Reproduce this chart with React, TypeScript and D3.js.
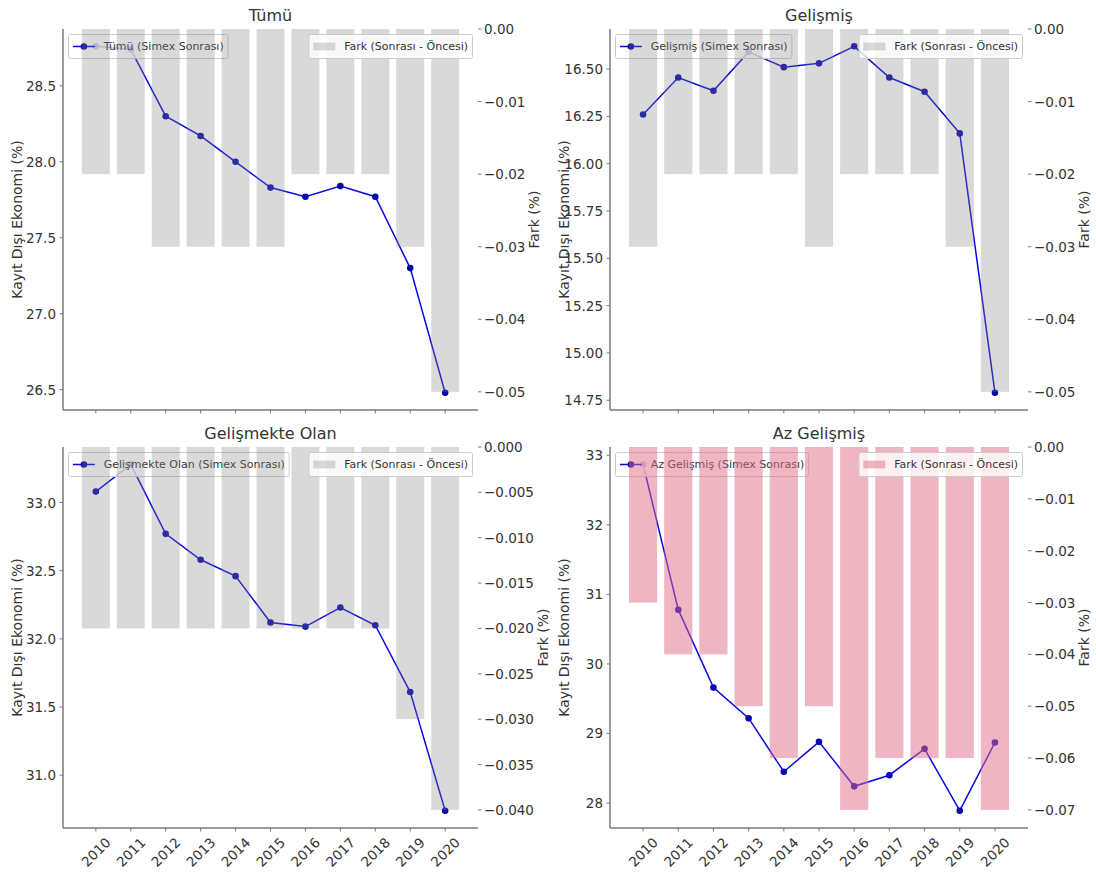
import React from "react";
import * as d3 from "d3";

const years = [2010, 2011, 2012, 2013, 2014, 2015, 2016, 2017, 2018, 2019, 2020];

const tumuValues = [28.76, 28.74, 28.3, 28.17, 28.0, 27.83, 27.77, 27.84, 27.77, 27.3, 26.48];
const tumuDiff = [-0.02, -0.02, -0.03, -0.03, -0.03, -0.03, -0.02, -0.02, -0.02, -0.03, -0.05];

const gelismisValues = [16.26, 16.455, 16.385, 16.59, 16.51, 16.53, 16.62, 16.455, 16.38, 16.16, 14.79];
const gelismisDiff = [-0.03, -0.02, -0.02, -0.02, -0.02, -0.03, -0.02, -0.02, -0.02, -0.03, -0.05];

const gelismekteValues = [33.08, 33.28, 32.77, 32.58, 32.46, 32.12, 32.09, 32.23, 32.1, 31.61, 30.74];
const gelismekteDiff = [-0.02, -0.02, -0.02, -0.02, -0.02, -0.02, -0.02, -0.02, -0.02, -0.03, -0.04];

const azValues = [32.87, 30.78, 29.66, 29.22, 28.45, 28.88, 28.24, 28.4, 28.78, 27.89, 28.87];
const azDiff = [-0.03, -0.04, -0.04, -0.05, -0.06, -0.05, -0.07, -0.06, -0.06, -0.06, -0.07];

const tumuLeftTicks = [26.5, 27.0, 27.5, 28.0, 28.5];
const gelismisLeftTicks = [14.75, 15.0, 15.25, 15.5, 15.75, 16.0, 16.25, 16.5];
const gelismekteLeftTicks = [31.0, 31.5, 32.0, 32.5, 33.0];
const azLeftTicks = [28, 29, 30, 31, 32, 33];

const tumuRightTicks = [0, -0.01, -0.02, -0.03, -0.04, -0.05];
const gelismisRightTicks = [0, -0.01, -0.02, -0.03, -0.04, -0.05];
const gelismekteRightTicks = [0, -0.005, -0.01, -0.015, -0.02, -0.025, -0.03, -0.035, -0.04];
const azRightTicks = [0, -0.01, -0.02, -0.03, -0.04, -0.05, -0.06, -0.07];

const FONT = '"DejaVu Sans", sans-serif';
const TICK_FS = 13.5;
const LEG_FS = 11;
const TEXT = "#333";
const SPINE = "#7a7a7a";
const LINE_COLOR = "#0a0ae0";
const MARKER_COLOR = "#0808b0";

let _ctx: CanvasRenderingContext2D | null = null;
function textWidth(s: string, size: number) {
  if (!_ctx) _ctx = document.createElement("canvas").getContext("2d");
  if (!_ctx) return s.length * size * 0.6;
  _ctx.font = `${size}px "DejaVu Sans"`;
  return _ctx.measureText(s).width;
}

type PanelCfg = {
  title: string;
  name: string;
  values: number[];
  diff: number[];
  leftTicks: number[];
  leftFmt: string;
  rightTicks: number[];
  rightFmt: string;
  barFill: string;
  barOpacity: number;
  x0: number;
  x1: number;
  y0: number;
  y1: number;
  showX: boolean;
};

function Panel({ p }: { p: PanelCfg }) {
  const { x0, x1, y0, y1 } = p;
  const lo = years[0] - 0.4;
  const hi = years[years.length - 1] + 0.4;
  const pad = (hi - lo) * 0.05;
  const x = d3.scaleLinear().domain([lo - pad, hi + pad]).range([x0, x1]);
  const [vmin, vmax] = d3.extent(p.values) as [number, number];
  const vr = vmax - vmin;
  const yL = d3.scaleLinear().domain([vmin - 0.05 * vr, vmax + 0.05 * vr]).range([y1, y0]);
  const dmin = d3.min(p.diff) as number;
  const yR = d3.scaleLinear().domain([dmin * 1.05, 0]).range([y1, y0]);
  const lineGen = d3
    .line<number>()
    .x((_, i) => x(years[i]))
    .y((d) => yL(d));
  const lf = d3.format(p.leftFmt);
  const rf = d3.format(p.rightFmt);
  const rightLabels = p.rightTicks.map((t) => (t === 0 ? rf(0) : rf(t)));
  const maxRW = Math.max(...rightLabels.map((s) => textWidth(s, TICK_FS)));
  const midY = (y0 + y1) / 2;

  const lText = `${p.name} (Simex Sonrası)`;
  const lW = 4.4 + 22 + 8.8 + textWidth(lText, LEG_FS) + 4.4;
  const lx = x0 + 5.5;
  const ly = y0 + 5.5;
  const lh = 24;
  const rText = "Fark (Sonrası - Öncesi)";
  const rW = 4.4 + 22 + 8.8 + textWidth(rText, LEG_FS) + 4.4;
  const rx = x1 - 5.5 - rW;

  const bw = x(1.4) - x(0.6);

  return (
    <g>
      <text x={(x0 + x1) / 2} y={y0 - 8} textAnchor="middle" fontSize={16} fill={TEXT} fontFamily={FONT}>
        {p.title}
      </text>
      {/* line (primary axis) */}
      <path d={lineGen(p.values) || ""} fill="none" stroke={LINE_COLOR} strokeWidth={1.5} />
      {p.values.map((v, i) => (
        <circle key={i} cx={x(years[i])} cy={yL(v)} r={3.3} fill={MARKER_COLOR} />
      ))}
      {/* left legend (primary axis, under bars) */}
      <g>
        <rect x={lx} y={ly} width={lW} height={lh} rx={2} fill="white" fillOpacity={0.8} stroke="#cccccc" strokeWidth={1} />
        <line x1={lx + 4.4} x2={lx + 26.4} y1={ly + lh / 2} y2={ly + lh / 2} stroke={LINE_COLOR} strokeWidth={1.5} />
        <circle cx={lx + 15.4} cy={ly + lh / 2} r={3.3} fill={MARKER_COLOR} />
        <text x={lx + 35.2} y={ly + lh / 2} dominantBaseline="central" fontSize={LEG_FS} fill={TEXT} fontFamily={FONT}>
          {lText}
        </text>
      </g>
      {/* bars (secondary axis, drawn on top) */}
      {p.diff.map((d, i) => (
        <rect
          key={i}
          x={x(years[i] - 0.4)}
          y={yR(0)}
          width={bw}
          height={yR(d) - yR(0)}
          fill={p.barFill}
          fillOpacity={p.barOpacity}
        />
      ))}
      {/* right legend */}
      <g>
        <rect x={rx} y={ly} width={rW} height={lh} rx={2} fill="white" fillOpacity={0.8} stroke="#cccccc" strokeWidth={1} />
        <rect x={rx + 4.4} y={ly + lh / 2 - 3.9} width={22} height={7.8} fill={p.barFill} fillOpacity={p.barOpacity} />
        <text x={rx + 35.2} y={ly + lh / 2} dominantBaseline="central" fontSize={LEG_FS} fill={TEXT} fontFamily={FONT}>
          {rText}
        </text>
      </g>
      {/* spines */}
      <line x1={x0} x2={x0} y1={y0} y2={y1} stroke={SPINE} strokeWidth={1.5} />
      <line x1={x0} x2={x1} y1={y1} y2={y1} stroke={SPINE} strokeWidth={1.5} />
      {/* left ticks */}
      {p.leftTicks.map((t, i) => (
        <g key={i}>
          <line x1={x0 - 3.5} x2={x0} y1={yL(t)} y2={yL(t)} stroke={SPINE} strokeWidth={1} />
          <text x={x0 - 7} y={yL(t)} textAnchor="end" dominantBaseline="central" fontSize={TICK_FS} fill={TEXT} fontFamily={FONT}>
            {lf(t)}
          </text>
        </g>
      ))}
      {/* right ticks */}
      {p.rightTicks.map((t, i) => (
        <g key={i}>
          <line x1={x1} x2={x1 + 3.5} y1={yR(t)} y2={yR(t)} stroke={SPINE} strokeWidth={1} />
          <text x={x1 + 6} y={yR(t)} dominantBaseline="central" fontSize={TICK_FS} fill={TEXT} fontFamily={FONT}>
            {rightLabels[i]}
          </text>
        </g>
      ))}
      {/* bottom ticks */}
      {years.map((yv, i) => (
        <g key={i}>
          <line x1={x(yv)} x2={x(yv)} y1={y1} y2={y1 + 3.5} stroke={SPINE} strokeWidth={1} />
          {p.showX && (
            <text
              transform={`translate(${x(yv)},${y1 + 24}) rotate(-45)`}
              textAnchor="middle"
              dominantBaseline="central"
              fontSize={TICK_FS}
              fill={TEXT}
              fontFamily={FONT}
            >
              {String(yv)}
            </text>
          )}
        </g>
      ))}
      {/* axis labels */}
      <text
        transform={`translate(${x0 - 46},${midY}) rotate(-90)`}
        textAnchor="middle"
        dominantBaseline="central"
        fontSize={14}
        fill={TEXT}
        fontFamily={FONT}
      >
        Kayıt Dışı Ekonomi (%)
      </text>
      <text
        transform={`translate(${x1 + 6 + maxRW + 9},${midY}) rotate(-90)`}
        textAnchor="middle"
        dominantBaseline="central"
        fontSize={14}
        fill={TEXT}
        fontFamily={FONT}
      >
        Fark (%)
      </text>
    </g>
  );
}

export default function App() {
  const L = { x0: 63, x1: 478 };
  const R = { x0: 610, x1: 1028 };
  const T = { y0: 29, y1: 410 };
  const B = { y0: 447, y1: 828 };
  const grey = "#808080";
  const pink = "#e06b86";
  const panels: PanelCfg[] = [
    { title: "Tümü", name: "Tümü", values: tumuValues, diff: tumuDiff, leftTicks: tumuLeftTicks, leftFmt: ".1f", rightTicks: tumuRightTicks, rightFmt: ".2f", barFill: grey, barOpacity: 0.3, ...L, ...T, showX: false },
    { title: "Gelişmiş", name: "Gelişmiş", values: gelismisValues, diff: gelismisDiff, leftTicks: gelismisLeftTicks, leftFmt: ".2f", rightTicks: gelismisRightTicks, rightFmt: ".2f", barFill: grey, barOpacity: 0.3, ...R, ...T, showX: false },
    { title: "Gelişmekte Olan", name: "Gelişmekte Olan", values: gelismekteValues, diff: gelismekteDiff, leftTicks: gelismekteLeftTicks, leftFmt: ".1f", rightTicks: gelismekteRightTicks, rightFmt: ".3f", barFill: grey, barOpacity: 0.3, ...L, ...B, showX: true },
    { title: "Az Gelişmiş", name: "Az Gelişmiş", values: azValues, diff: azDiff, leftTicks: azLeftTicks, leftFmt: "d", rightTicks: azRightTicks, rightFmt: ".2f", barFill: pink, barOpacity: 0.5, ...R, ...B, showX: true },
  ];
  return (
    <svg
      width={1096}
      height={878}
      style={{ position: "absolute", left: 0, top: 0, background: "white" }}
      fontFamily={FONT}
    >
      <rect width={1096} height={878} fill="white" />
      {panels.map((p, i) => (
        <Panel key={i} p={p} />
      ))}
    </svg>
  );
}
